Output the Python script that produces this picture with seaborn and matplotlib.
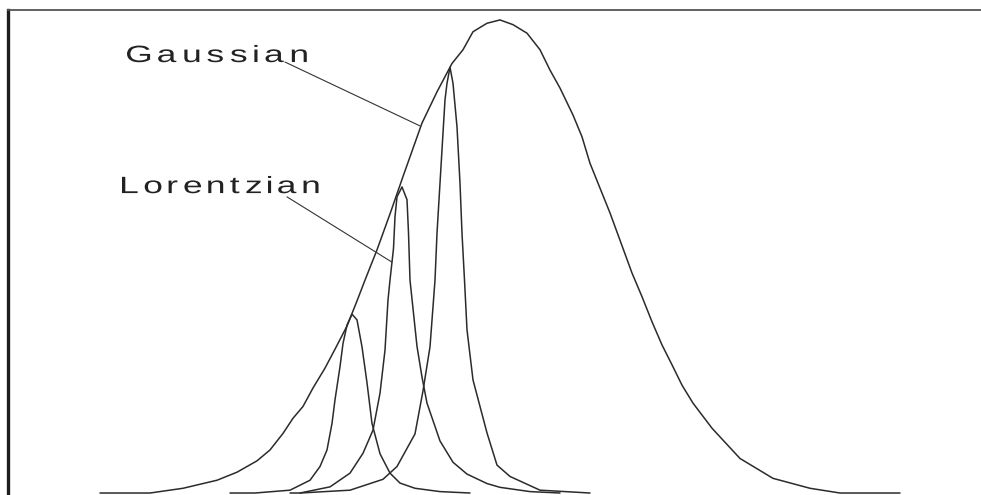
import numpy as np
import matplotlib
matplotlib.use("Agg")
import matplotlib.pyplot as plt
import seaborn as sns
import pandas as pd
from matplotlib.patheffects import AbstractPathEffect
from matplotlib.textpath import TextPath, TextToPath
from matplotlib.font_manager import FontProperties
from matplotlib.path import Path

# Broad Gaussian envelope (position, relative intensity)
gauss_x = [100, 150, 183, 217, 237, 257, 270, 283, 293, 303, 313, 325, 335, 347, 357, 365,
           377, 390, 403, 422, 437, 452, 463, 473, 487, 500, 513, 527, 540, 550, 560, 573,
           582, 590, 602, 610, 623, 632, 642, 652, 662, 672, 682, 693, 712, 740, 773, 810,
           840, 900]
gauss_y = [0.0, 0.0, 1.0, 2.7, 4.4, 6.8, 9.1, 12.6, 15.8, 18.3, 22.2, 26.4, 30.4, 35.3, 40.6, 45.0,
           51.4, 59.0, 66.9, 78.2, 84.8, 90.8, 93.7, 97.5, 99.3, 100.0, 99.0, 97.2, 93.7, 89.4, 85.6, 79.9,
           75.3, 69.7, 63.4, 59.2, 51.7, 46.5, 41.5, 36.2, 31.3, 27.1, 22.8, 19.0, 13.7, 7.3, 3.1, 1.0,
           0.0, 0.0]

# Three narrow Lorentzian lines under the envelope
lor1_x = [230, 255, 290, 310, 320, 327, 332, 335, 340, 343, 347, 352,
          357, 362, 367, 372, 380, 390, 400, 415, 440, 470]
lor1_y = [0.0, 0.0, 0.6, 2.7, 5.6, 9.1, 14.7, 19.7, 26.7, 31.6, 35.5, 37.8,
          36.6, 30.9, 23.3, 14.7, 8.3, 4.2, 2.1, 1.0, 0.3, 0.0]

lor2_x = [290, 300, 330, 350, 363, 373, 380, 385, 388, 390, 393.5, 395, 397, 402,
          407, 408.5, 410, 413.5, 417, 422, 427, 440, 453, 467, 487, 500, 530, 560]
lor2_y = [0.0, 0.0, 1.3, 4.2, 8.4, 13.3, 21.1, 30.2, 40.8, 45.0, 51.7, 58.4, 62.6, 64.7,
          62.0, 55.0, 45.0, 38.0, 31.0, 24.5, 19.0, 11.0, 6.5, 4.0, 2.0, 1.2, 0.3, 0.0]

lor3_x = [300, 350, 383, 397, 415, 423, 430, 435, 437, 440, 443, 445, 447, 450,
          453, 457, 460, 462, 464.5, 467, 473, 487, 497, 510, 540, 590]
lor3_y = [0.0, 0.6, 2.9, 5.6, 12.5, 21.6, 30.9, 45.0, 54.9, 65.5, 76.1, 83.1, 86.6, 90.0,
          86.6, 77.4, 65.5, 54.9, 45.0, 34.5, 23.9, 12.7, 5.9, 3.5, 0.6, 0.0]

labels = ["Gaussian", "Lorentzian"]
label_family = "Liberation Sans"


class SpacedGlyphs(AbstractPathEffect):
    """Redraw a label with wider glyphs and open letter spacing."""

    def __init__(self, text, family, stretch=1.0, gap=0.0):
        super().__init__()
        scale = TextToPath.FONT_SCALE
        prop = FontProperties(family=family, size=scale)
        verts, codes = [], []
        cursor = 0.0
        for ch in text:
            glyph = TextPath((0, 0), ch, prop=prop)
            v = np.array(glyph.vertices, dtype=float)
            c = np.array(glyph.codes)
            v[:, 0] *= stretch
            ink = v[c != Path.CLOSEPOLY, 0]
            x0, x1 = ink.min(), ink.max()
            v[:, 0] += cursor - x0
            cursor += (x1 - x0) + gap * scale
            verts.append(v)
            codes.append(c)
        self._path = Path(np.concatenate(verts), np.concatenate(codes))

    def draw_path(self, renderer, gc, tpath, affine, rgbFace=None):
        renderer.draw_path(gc, self._path, affine, rgbFace)


sns.set_theme(style="white")
plt.rcParams["font.family"] = [label_family, "DejaVu Sans"]

frames = []
for name, xs, ys in [("Gaussian", gauss_x, gauss_y),
                     ("Lorentzian 1", lor1_x, lor1_y),
                     ("Lorentzian 2", lor2_x, lor2_y),
                     ("Lorentzian 3", lor3_x, lor3_y)]:
    frames.append(pd.DataFrame({"position": xs, "intensity": ys, "curve": name}))
df = pd.concat(frames, ignore_index=True)

fig = plt.figure(figsize=(9.81, 4.95), dpi=100)
ax = fig.add_axes([8 / 981, 0.0, 973 / 981, 485 / 495])

line_color = "#2b2b2b"
sns.lineplot(data=df, x="position", y="intensity", hue="curve", units="curve",
             estimator=None, palette=[line_color] * 4, linewidth=1.1,
             legend=False, ax=ax)

ax.set_xlim(8, 981)
ax.set_ylim(-0.42, 102.1)
ax.set_xticks([])
ax.set_yticks([])
ax.set_xlabel("")
ax.set_ylabel("")

for side in ["right", "bottom"]:
    ax.spines[side].set_visible(False)
ax.spines["left"].set_color("#1e1e1e")
ax.spines["left"].set_linewidth(2.4)
ax.spines["top"].set_color("#555555")
ax.spines["top"].set_linewidth(1.3)

# Labels with thin leader lines to the curves
ax.text(127, 91.1, labels[0], fontsize=17, color="#222222", ha="left", va="baseline",
        path_effects=[SpacedGlyphs(labels[0], label_family, stretch=1.5, gap=0.34)])
ax.plot([285, 420], [91.1, 77.6], color="#333333", linewidth=0.8)

ax.text(122, 63.4, labels[1], fontsize=17, color="#222222", ha="left", va="baseline",
        path_effects=[SpacedGlyphs(labels[1], label_family, stretch=1.5, gap=0.30)])
ax.plot([287, 392], [62.6, 48.8], color="#333333", linewidth=0.8)

fig.savefig("out.png", dpi=100, facecolor="white")
